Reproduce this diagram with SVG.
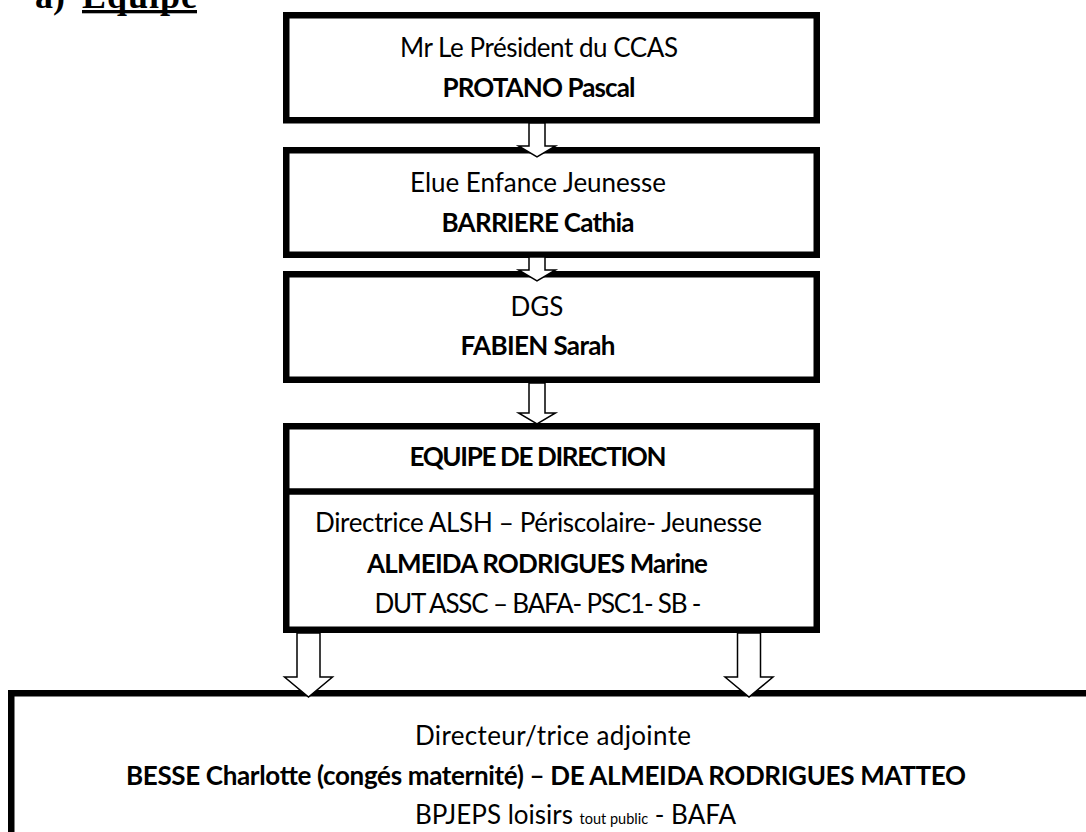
<svg xmlns="http://www.w3.org/2000/svg" width="1086" height="832" viewBox="0 0 1086 832">
<style>
.box{fill:#fff;stroke:#000;stroke-width:6.5}
.div{stroke:#000;stroke-width:6.5}
.arr{fill:#fff;stroke:#000;stroke-width:1.5;stroke-linejoin:miter}
.t{font-family:Lato,"Liberation Sans",sans-serif;font-size:26px;fill:#000;text-anchor:middle}
.b{font-weight:bold}
.title{font-family:"Liberation Serif","Times New Roman",serif;font-weight:bold;font-size:36px;fill:#000}
</style>
<rect width="1086" height="832" fill="#fff"/>
<g id="title">
<text class="title" x="35" y="8">a)</text>
<text class="title" x="82" y="8" textLength="115">Equipe</text>
<rect x="82" y="10" width="115" height="3.3" fill="#000"/>
</g>
<g id="president">
<rect class="box" x="286.25" y="15.25" width="530.5" height="105"/>
<text class="t" x="539" y="57" textLength="278">Mr Le Président du CCAS</text>
<text class="t b" x="539" y="97" textLength="193">PROTANO Pascal</text>
</g>
<g id="elue">
<rect class="box" x="286.25" y="150.25" width="530.5" height="104.5"/>
<text class="t" x="538" y="192" textLength="256">Elue Enfance Jeunesse</text>
<text class="t b" x="538" y="232" textLength="193">BARRIERE Cathia</text>
</g>
<g id="dgs">
<rect class="box" x="286.25" y="274.25" width="530.5" height="105.5"/>
<text class="t" x="537" y="316">DGS</text>
<text class="t b" x="538" y="355" textLength="155">FABIEN Sarah</text>
</g>
<g id="direction">
<rect class="box" x="286.25" y="426.25" width="530.5" height="203.5"/>
<line class="div" x1="283" y1="491.5" x2="820" y2="491.5"/>
<text class="t b" x="538" y="466" textLength="257">EQUIPE DE DIRECTION</text>
<text class="t" x="538.5" y="532" textLength="447">Directrice ALSH – Périscolaire- Jeunesse</text>
<text class="t b" x="537.5" y="573" textLength="341">ALMEIDA RODRIGUES Marine</text>
<text class="t" x="538" y="613" textLength="327">DUT ASSC – BAFA- PSC1- SB -</text>
</g>
<g id="adjointe">
<rect class="box" x="11.25" y="693.25" width="1090" height="200"/>
<text class="t" x="553" y="745" textLength="276">Directeur/trice adjointe</text>
<text class="t b" x="546" y="785" textLength="840">BESSE Charlotte (congés maternité) – DE ALMEIDA RODRIGUES MATTEO</text>
<text class="t" x="415" y="824" style="text-anchor:start">BPJEPS loisirs <tspan font-size="14.5px">tout public</tspan> - BAFA</text>
</g>
<g id="connectors">
<path class="arr" d="M529,123 V146 H518.5 L537,157 L555.5,146 H545 V123 Z"/>
<path class="arr" d="M529,257 V270 H518.5 L537,281 L555.5,270 H545 V257 Z"/>
<path class="arr" d="M529,383 V413 H518.5 L537,424 L555.5,413 H545 V383 Z"/>
<path class="arr" d="M297,633 V677 H284.5 L308.5,697 L332.5,677 H320 V633 Z"/>
<path class="arr" d="M737.5,633 V677 H725 L749,697 L773,677 H760.5 V633 Z"/>
</g>
</svg>
